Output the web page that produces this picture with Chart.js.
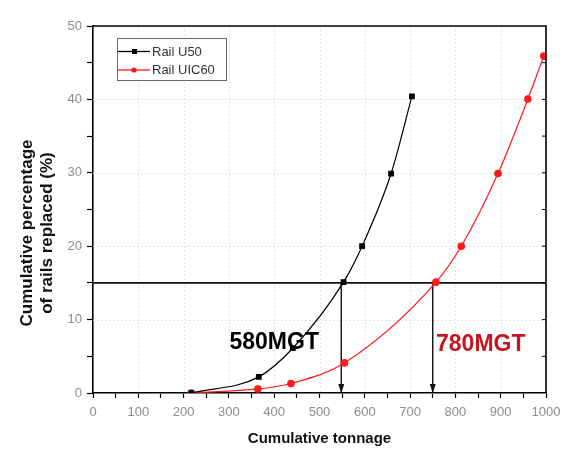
<!DOCTYPE html>
<html>
<head>
<meta charset="utf-8">
<script src="https://cdn.jsdelivr.net/npm/chart.js@4.4.1/dist/chart.umd.min.js"></script>
<style>
  html, body { margin: 0; padding: 0; background: #fff; }
  #wrap { width: 578px; height: 458px; position: relative; }
</style>
</head>
<body>
<div id="wrap"><canvas id="c" width="578" height="458"></canvas></div>
<script>
// ---- Data ----
const seriesNames = ["Rail U50", "Rail UIC60"];
const tonnageU50 = [217, 366, 441, 553, 594, 658, 704];
const pctU50 = [0, 2.2, 6.1, 15.1, 20.0, 29.9, 40.4];
const tonnageUIC60 = [217, 364, 437, 555, 757, 813, 894, 960, 995];
const pctUIC60 = [0, 0.55, 1.3, 4.1, 15.1, 20.0, 29.9, 40.05, 45.9];
const thresholdPct = 15;
const thresholdSpan = [0, 1000];
const crossTonnage = [548, 750];          // where the 15% line meets each curve
const crossLabels = ["580MGT", "780MGT"];
const crossLabelPos = [[400, 6.9], [856, 6.6]]; // label centres in data units
const xTicksRange = [0, 1000];
const yTicksRange = [0, 50];
const xTitle = "Cumulative tonnage";
const yTitle = ["Cumulative percentage", "of rails replaced (%)"];

const toPts = (xs, ys) => xs.map((x, i) => ({ x: x, y: ys[i] }));

const RED = "#ff1a1a";
const DARKRED = "#c8141c";

const data = {
  datasets: [
    {
      label: seriesNames[0],
      data: toPts(tonnageU50, pctU50),
      borderColor: "#000", backgroundColor: "#000",
      borderWidth: 1.2, pointStyle: "rect", pointRadius: 3.2,
      cubicInterpolationMode: "monotone", order: 1
    },
    {
      label: seriesNames[1],
      data: toPts(tonnageUIC60, pctUIC60),
      borderColor: RED, backgroundColor: RED,
      borderWidth: 1.2, pointStyle: "circle", pointRadius: 3.2,
      cubicInterpolationMode: "monotone", order: 2
    },
    {
      label: "threshold",
      data: thresholdSpan.map(x => ({ x: x, y: thresholdPct })),
      borderColor: "#111", borderWidth: 1.6, pointRadius: 0, order: 3
    },
    {
      label: "arrow1",
      data: [{ x: crossTonnage[0], y: thresholdPct }, { x: crossTonnage[0], y: 0 }],
      borderColor: "#111", borderWidth: 1.4, pointRadius: 0, order: 3, arrow: true
    },
    {
      label: "arrow2",
      data: [{ x: crossTonnage[1], y: thresholdPct }, { x: crossTonnage[1], y: 0 }],
      borderColor: "#111", borderWidth: 1.4, pointRadius: 0, order: 3, arrow: true
    }
  ]
};

const decor = {
  id: "decor",
  beforeDatasetsDraw(chart) {
    const { ctx, chartArea: a, scales } = chart;
    ctx.save();
    ctx.strokeStyle = "#e4e4e4";
    ctx.lineWidth = 1;
    ctx.setLineDash([2, 2]);
    for (let v = xTicksRange[0] + 100; v < xTicksRange[1]; v += 100) {
      const px = Math.round(scales.x.getPixelForValue(v)) + 0.5;
      ctx.beginPath(); ctx.moveTo(px, a.top); ctx.lineTo(px, a.bottom); ctx.stroke();
    }
    for (let v = yTicksRange[0] + 10; v < yTicksRange[1]; v += 10) {
      const py = Math.round(scales.y.getPixelForValue(v)) + 0.5;
      ctx.beginPath(); ctx.moveTo(a.left, py); ctx.lineTo(a.right, py); ctx.stroke();
    }
    ctx.restore();
  },
  afterDatasetsDraw(chart) {
    const { ctx, chartArea: a, scales } = chart;
    ctx.save();
    // arrowheads
    chart.data.datasets.forEach((ds, i) => {
      if (!ds.arrow) return;
      const meta = chart.getDatasetMeta(i);
      const p = meta.data[meta.data.length - 1];
      ctx.fillStyle = "#111";
      ctx.beginPath();
      ctx.moveTo(p.x, p.y);
      ctx.lineTo(p.x - 3, p.y - 9);
      ctx.lineTo(p.x + 3, p.y - 9);
      ctx.closePath();
      ctx.fill();
    });
    // frame top/right
    ctx.strokeStyle = "#000";
    ctx.lineWidth = 1.6;
    ctx.beginPath();
    ctx.moveTo(a.left, a.top); ctx.lineTo(a.right, a.top); ctx.lineTo(a.right, a.bottom);
    ctx.stroke();
    // right side inner ticks
    ctx.lineWidth = 1;
    for (let v = yTicksRange[0] + 5; v < yTicksRange[1]; v += 5) {
      const py = scales.y.getPixelForValue(v);
      ctx.beginPath(); ctx.moveTo(a.right, py); ctx.lineTo(a.right - 4, py); ctx.stroke();
    }
    // crossing labels
    ctx.font = "bold 23px 'Liberation Sans', Arial, sans-serif";
    ctx.textAlign = "center"; ctx.textBaseline = "middle";
    crossLabels.forEach((t, i) => {
      ctx.fillStyle = i === 0 ? "#000" : DARKRED;
      ctx.fillText(t, scales.x.getPixelForValue(crossLabelPos[i][0]), scales.y.getPixelForValue(crossLabelPos[i][1]));
    });
    // legend
    const lx = 117, ly = 38, lw = 109, lh = 42;
    ctx.fillStyle = "#fff";
    ctx.fillRect(lx, ly, lw, lh);
    ctx.strokeStyle = "#666"; ctx.lineWidth = 1;
    ctx.strokeRect(lx + 0.5, ly + 0.5, lw, lh);
    const rows = [ly + 13.5, ly + 32];
    const cols = ["#000", RED];
    ctx.font = "13px 'Liberation Sans', Arial, sans-serif";
    ctx.textAlign = "left";
    rows.forEach((ry, i) => {
      ctx.strokeStyle = cols[i]; ctx.lineWidth = 1.3;
      ctx.beginPath(); ctx.moveTo(lx + 1, ry); ctx.lineTo(lx + 33, ry); ctx.stroke();
      ctx.fillStyle = cols[i];
      if (i === 0) ctx.fillRect(lx + 15, ry - 2.5, 5, 5);
      else { ctx.beginPath(); ctx.arc(lx + 17, ry, 2.6, 0, Math.PI * 2); ctx.fill(); }
      ctx.fillStyle = "#333";
      ctx.fillText(seriesNames[i], lx + 35, ry + 0.5);
    });
    // axis titles
    ctx.fillStyle = "#111";
    ctx.font = "bold 15px 'Liberation Sans', Arial, sans-serif";
    ctx.textAlign = "center";
    ctx.fillText(xTitle, (a.left + a.right) / 2, 439);
    ctx.save();
    ctx.translate(27, 233);
    ctx.rotate(-Math.PI / 2);
    ctx.font = "bold 17px 'Liberation Sans', Arial, sans-serif";
    ctx.fillText(yTitle[0], 0, 0);
    ctx.fillText(yTitle[1], 0, 20);
    ctx.restore();
    ctx.restore();
  }
};

new Chart(document.getElementById("c"), {
  type: "line",
  data: data,
  plugins: [decor],
  options: {
    responsive: false,
    animation: false,
    layout: { padding: { top: 26, right: 32, left: 0, bottom: 0 } },
    plugins: { legend: { display: false }, tooltip: { enabled: false } },
    scales: {
      x: {
        type: "linear", min: xTicksRange[0], max: xTicksRange[1],
        afterFit(s) { s.height = 65; },
        ticks: {
          stepSize: 50, autoSkip: false, maxRotation: 0, padding: 7,
          color: "#8c8c8c", font: { family: "'Liberation Sans', Arial, sans-serif", size: 13 },
          callback: v => (v % 100 === 0 ? String(v) : "")
        },
        grid: { drawOnChartArea: false, tickLength: 5, tickColor: "#000", tickWidth: 1.2 },
        border: { color: "#000", width: 1.6 }
      },
      y: {
        type: "linear", min: yTicksRange[0], max: yTicksRange[1],
        afterFit(s) { s.width = 93; },
        ticks: {
          stepSize: 5, autoSkip: false, padding: 5,
          color: "#8c8c8c", font: { family: "'Liberation Sans', Arial, sans-serif", size: 13 },
          callback: v => (v % 10 === 0 ? String(v) : "")
        },
        grid: { drawOnChartArea: false, tickLength: 6, tickColor: "#000", tickWidth: 1.2 },
        border: { color: "#000", width: 1.6 }
      }
    }
  }
});
</script>
</body>
</html>
